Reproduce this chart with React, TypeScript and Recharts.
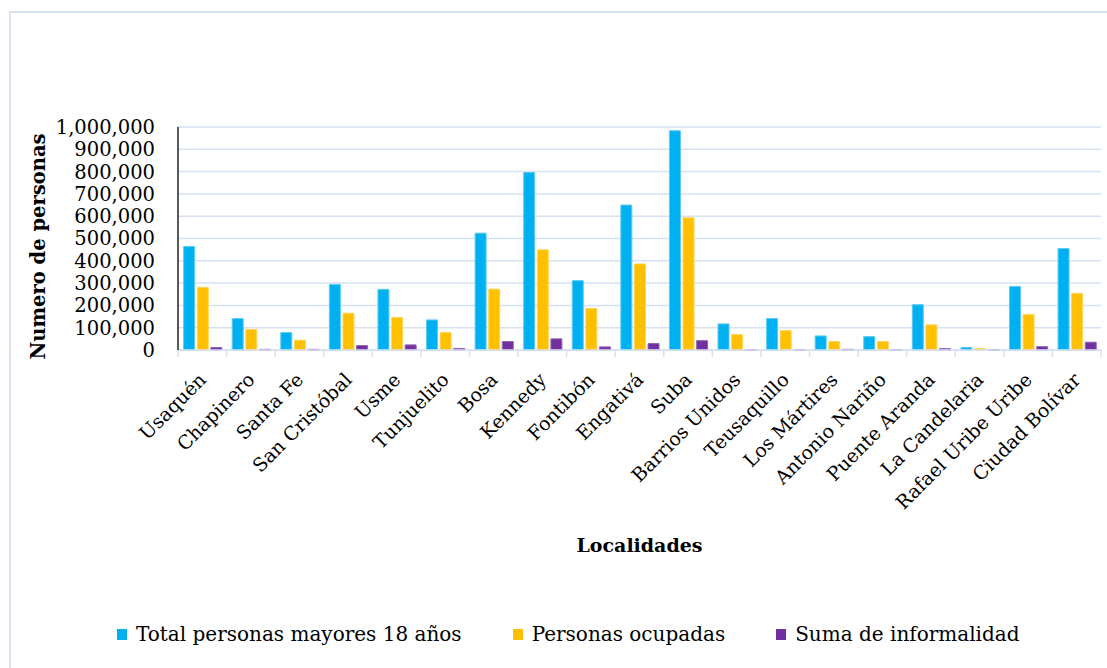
import React from 'react';
import { BarChart, Bar, XAxis, YAxis, CartesianGrid, Legend, Label } from 'recharts';

const categories = ['Usaquén', 'Chapinero', 'Santa Fe', 'San Cristóbal', 'Usme', 'Tunjuelito', 'Bosa', 'Kennedy', 'Fontibón', 'Engativá', 'Suba', 'Barrios Unidos', 'Teusaquillo', 'Los Mártires', 'Antonio Nariño', 'Puente Aranda', 'La Candelaria', 'Rafael Uribe Uribe', 'Ciudad Bolívar'];
const totalMayores18 = [464000, 141000, 78000, 294000, 272000, 135000, 524000, 796000, 311000, 650000, 983000, 117000, 141000, 63000, 60000, 203000, 11000, 285000, 455000];
const personasOcupadas = [281000, 92000, 44000, 165000, 146000, 78000, 273000, 449000, 186000, 386000, 593000, 69000, 87000, 38000, 38000, 113000, 6000, 159000, 254000];
const sumaInformalidad = [11000, 3000, 3000, 20000, 23000, 7000, 38000, 50000, 14000, 29000, 42000, 1500, 1000, 3000, 2000, 6000, 1500, 15000, 35000];
const yTicks = [0, 100000, 200000, 300000, 400000, 500000, 600000, 700000, 800000, 900000, 1000000];

const seriesNames = ['Total personas mayores 18 años', 'Personas ocupadas', 'Suma de informalidad'];

const data = categories.map((c, i) => ({
  name: c,
  total: totalMayores18[i],
  ocupadas: personasOcupadas[i],
  informalidad: sumaInformalidad[i],
}));

const FONT = '"DejaVu Serif", serif';
const GRID = '#D6E1F2';

const XTick = (props: any) => {
  const { x, y, payload, index, visibleTicksCount } = props;
  const half = payload && typeof payload.offset === 'number' ? payload.offset : 0;
  const tx = x + 5;
  const ty = y + 31;
  return (
    <g>
      <line x1={x - half} x2={x - half} y1={y} y2={y + 7} stroke={GRID} strokeWidth={1.5} />
      {index === visibleTicksCount - 1 && (
        <line x1={x + half} x2={x + half} y1={y} y2={y + 7} stroke={GRID} strokeWidth={1.5} />
      )}
      <text x={tx} y={ty} transform={`rotate(-45, ${tx}, ${ty})`} textAnchor="end" fontFamily={FONT} fontSize={19} fill="#000">
        {payload.value}
      </text>
    </g>
  );
};

const YLabel = (props: any) => {
  const vb = props.viewBox || { x: 0, y: 127, width: 178, height: 223 };
  const cx = 38;
  const cy = vb.y + vb.height / 2 + 8;
  return (
    <text x={cx} y={cy} transform={`rotate(-90, ${cx}, ${cy})`} textAnchor="middle" dominantBaseline="central" fontFamily={FONT} fontSize={19.5} fontWeight="bold" fill="#000">
      Numero de personas
    </text>
  );
};

const LegendContent = (props: any) => {
  const payload = [...(props.payload || [])].sort(
    (a: any, b: any) => seriesNames.indexOf(a.value) - seriesNames.indexOf(b.value)
  );
  return (
    <div style={{ display: 'flex', alignItems: 'center', paddingLeft: 117, fontFamily: FONT, fontSize: 20, color: '#000' }}>
      {payload.map((p: any, i: number) => (
        <div key={i} style={{ display: 'flex', alignItems: 'center', marginRight: 51 }}>
          <span style={{ display: 'inline-block', width: 10, height: 11, background: p.color, marginRight: 9 }} />
          <span style={{ whiteSpace: 'nowrap' }}>{p.value}</span>
        </div>
      ))}
    </div>
  );
};

export default function App() {
  return (
    <div style={{ position: 'relative', width: 1107, height: 668, background: '#fff' }}>
      <style>{`body{margin:0;overflow:hidden;}`}</style>
      <div style={{ position: 'absolute', left: 9, top: 11, width: 1096, height: 655, borderLeft: `2px solid ${GRID}`, borderTop: `2px solid ${GRID}` }} />
      <div style={{ position: 'absolute', left: 0, top: 0 }}>
        <BarChart
          width={1107}
          height={668}
          data={data}
          margin={{ top: 127, right: 6, left: 0, bottom: 108 }}
          barCategoryGap="11.6%"
          barGap={2.6}
        >
          <CartesianGrid vertical={false} stroke={GRID} strokeWidth={1.5} />
          <XAxis
            dataKey="name"
            interval={0}
            height={210}
            tick={<XTick />}
            tickLine={false}
            tickSize={0}
            tickMargin={0}
            axisLine={{ stroke: GRID, strokeWidth: 1.5 }}
          >
            <Label value="Localidades" position="insideBottom" offset={8} style={{ fontFamily: FONT, fontSize: 19, fontWeight: 'bold', fill: '#000' }} />
          </XAxis>
          <YAxis
            width={178}
            domain={[0, 1000000]}
            ticks={yTicks}
            interval={0}
            tickFormatter={(v: number) => v.toLocaleString('en-US')}
            tick={{ fontFamily: FONT, fontSize: 19.5, fill: '#000' }}
            tickLine={false}
            tickSize={0}
            tickMargin={23}
            axisLine={{ stroke: '#000', strokeWidth: 1.3 }}
            label={<YLabel />}
          />
          <Legend
            layout="horizontal"
            verticalAlign="middle"
            align="center"
            wrapperStyle={{ top: 622, left: 0, width: 1107 }}
            content={<LegendContent />}
          />
          <Bar dataKey="total" name={seriesNames[0]} fill="#00B0F0" stroke="#5CCBF4" strokeWidth={1} isAnimationActive={false} />
          <Bar dataKey="ocupadas" name={seriesNames[1]} fill="#FFC000" stroke="#FFD45A" strokeWidth={1} isAnimationActive={false} />
          <Bar dataKey="informalidad" name={seriesNames[2]} fill="#7030A0" stroke="#9466B8" strokeWidth={1} isAnimationActive={false} />
        </BarChart>
      </div>
    </div>
  );
}
